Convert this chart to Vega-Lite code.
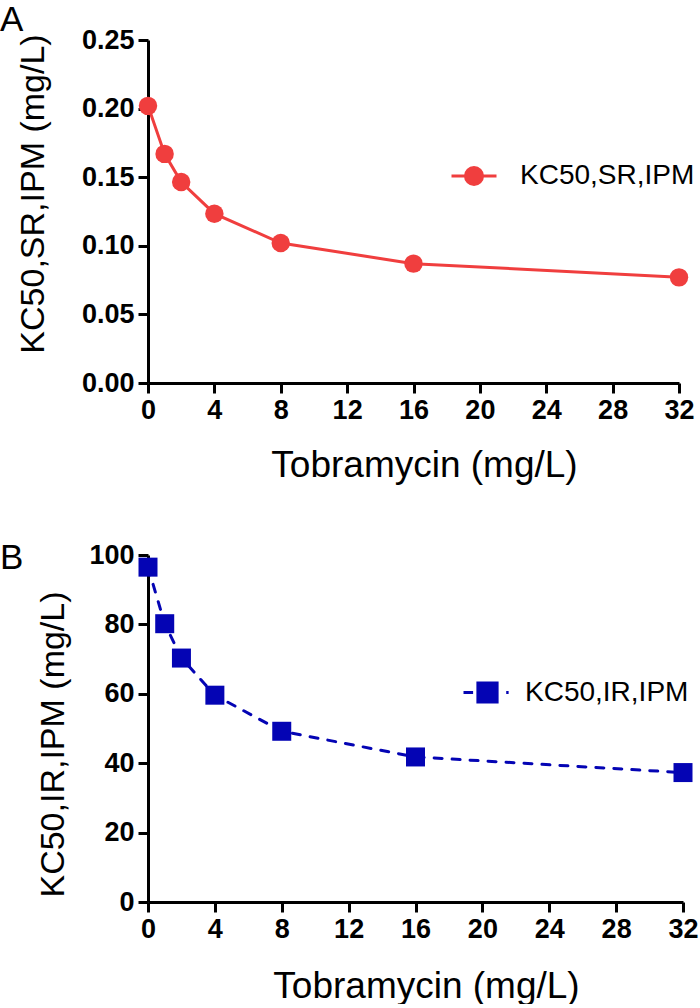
{
  "$schema": "https://vega.github.io/schema/vega-lite/v6.json",
  "background": "white",
  "padding": {"top": 3, "left": 0, "right": 0, "bottom": 0},
  "spacing": 172,
  "bounds": "flush",
  "datasets": {
    "a": [
      {"tob": 0, "kc": 0.202, "series": "KC50,SR,IPM"},
      {"tob": 1, "kc": 0.167, "series": "KC50,SR,IPM"},
      {"tob": 2, "kc": 0.1465, "series": "KC50,SR,IPM"},
      {"tob": 4, "kc": 0.1234, "series": "KC50,SR,IPM"},
      {"tob": 8, "kc": 0.102, "series": "KC50,SR,IPM"},
      {"tob": 16, "kc": 0.087, "series": "KC50,SR,IPM"},
      {"tob": 32, "kc": 0.077, "series": "KC50,SR,IPM"}
    ],
    "b": [
      {"tob": 0, "kc": 96.5, "series": "KC50,IR,IPM"},
      {"tob": 1, "kc": 80.2, "series": "KC50,IR,IPM"},
      {"tob": 2, "kc": 70.3, "series": "KC50,IR,IPM"},
      {"tob": 4, "kc": 59.6, "series": "KC50,IR,IPM"},
      {"tob": 8, "kc": 49.2, "series": "KC50,IR,IPM"},
      {"tob": 16, "kc": 41.8, "series": "KC50,IR,IPM"},
      {"tob": 32, "kc": 37.3, "series": "KC50,IR,IPM"}
    ]
  },
  "config": {
    "view": {"stroke": null},
    "axis": {
      "domainColor": "black", "domainWidth": 3, "tickColor": "black", "tickWidth": 3, "tickSize": 10,
      "labelFont": "Liberation Sans", "labelFontSize": 27, "labelFontWeight": "bold", "labelColor": "black", "labelPadding": 4,
      "titleFont": "Liberation Sans", "titleFontSize": 34, "titleFontWeight": "normal", "titleColor": "black", "grid": false
    },
    "legend": {"padding": 0, "labelFont": "Liberation Sans", "labelFontSize": 28, "labelColor": "black", "labelLimit": 0, "symbolOpacity": 1, "symbolStrokeWidth": 3},
    "title": {"font": "Liberation Sans", "fontSize": 35, "fontWeight": "normal", "color": "black", "anchor": "start", "frame": "group"}
  },
  "resolve": {"scale": {"color": "independent", "x": "independent", "y": "independent"}, "legend": {"color": "independent"}},
  "vconcat": [
    {
      "width": 531, "height": 343,
      "title": {"text": "A", "dx": -148, "offset": -40, "baseline": "alphabetic"},
      "data": {"name": "a"},
      "encoding": {
        "x": {"field": "tob", "type": "quantitative", "scale": {"domain": [0, 32], "nice": false},
          "axis": {"values": [0, 4, 8, 12, 16, 20, 24, 28, 32], "title": "Tobramycin (mg/L)", "titleFontSize": 37, "titleX": 276, "titleY": 93, "titleBaseline": "alphabetic", "labelFlush": false}},
        "y": {"field": "kc", "type": "quantitative", "scale": {"domain": [0, 0.25], "nice": false},
          "axis": {"values": [0, 0.05, 0.1, 0.15, 0.2, 0.25], "format": ".2f", "title": "KC50,SR,IPM (mg/L)", "titleX": -105, "titleY": 153.5, "titleBaseline": "alphabetic", "titleAlign": "center", "titleAngle": -90}},
        "color": {"field": "series", "type": "nominal", "scale": {"domain": ["KC50,SR,IPM"], "range": ["#F03E3E"]},
          "legend": {"orient": "none", "legendX": 302, "legendY": 112, "title": null,
            "symbolType": "M-1,0L1,0M-0.38,0A0.38,0.38,0,1,0,0.38,0A0.38,0.38,0,1,0,-0.38,0Z",
            "symbolSize": 2025, "symbolFillColor": "#F03E3E", "symbolStrokeColor": "#F03E3E", "labelOffset": 22}}
      },
      "layer": [
        {"mark": {"type": "line", "strokeWidth": 3}},
        {"mark": {"type": "point", "filled": true, "shape": "circle", "size": 340, "opacity": 1}}
      ]
    },
    {
      "width": 535, "height": 347,
      "title": {"text": "B", "dx": -148, "offset": -63, "baseline": "alphabetic"},
      "data": {"name": "b"},
      "encoding": {
        "x": {"field": "tob", "type": "quantitative", "scale": {"domain": [0, 32], "nice": false},
          "axis": {"values": [0, 4, 8, 12, 16, 20, 24, 28, 32], "title": "Tobramycin (mg/L)", "titleFontSize": 37, "titleX": 278, "titleY": 95, "titleBaseline": "alphabetic", "labelFlush": false}},
        "y": {"field": "kc", "type": "quantitative", "scale": {"domain": [0, 100], "nice": false},
          "axis": {"values": [0, 20, 40, 60, 80, 100], "title": "KC50,IR,IPM (mg/L)", "titleX": -85, "titleY": 189, "titleBaseline": "alphabetic", "titleAlign": "center", "titleAngle": -90}},
        "color": {"field": "series", "type": "nominal", "scale": {"domain": ["KC50,IR,IPM"], "range": ["#0404B4"]},
          "legend": {"orient": "none", "legendX": 314, "legendY": 112, "title": null,
            "symbolType": "M-1,0L-0.6,0M0.78,0L0.88,0M-0.4,-0.4L0.4,-0.4L0.4,0.4L-0.4,0.4Z",
            "symbolSize": 2304, "symbolFillColor": "#0404B4", "symbolStrokeColor": "#0404B4", "labelOffset": 12}}
      },
      "layer": [
        {"mark": {"type": "line", "strokeWidth": 3, "strokeDash": [8, 10], "strokeCap": "round"}},
        {"mark": {"type": "point", "filled": true, "shape": "square", "size": 361, "opacity": 1}}
      ]
    }
  ]
}
